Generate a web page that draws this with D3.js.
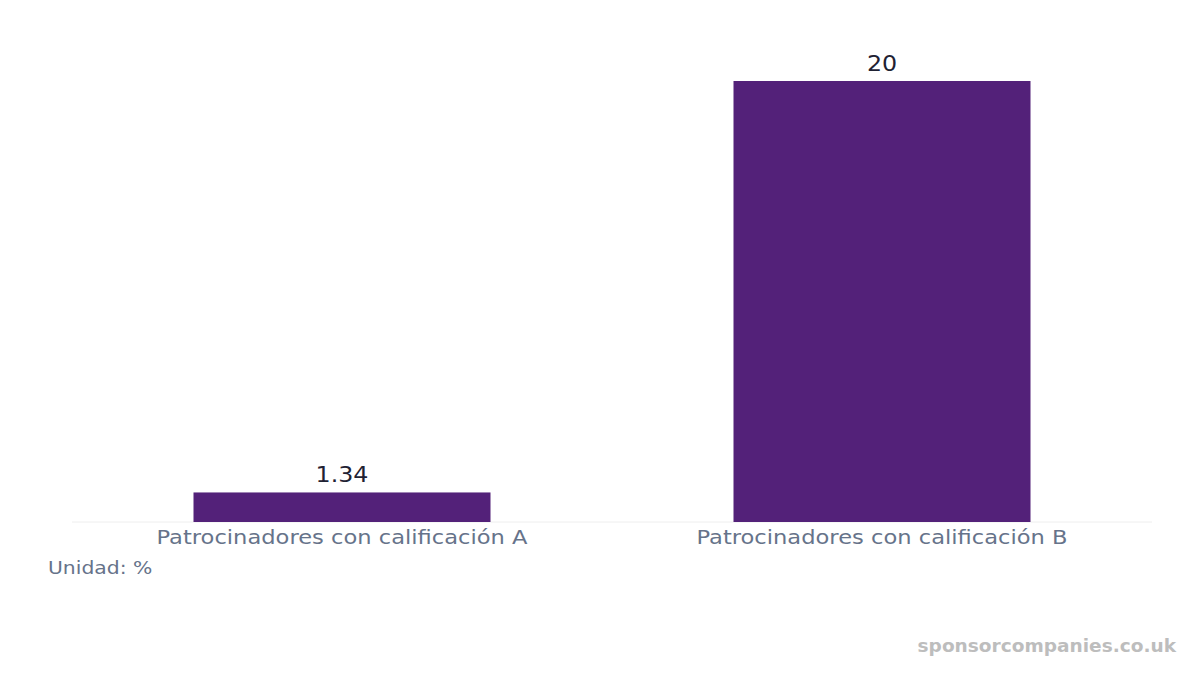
<!DOCTYPE html>
<html><head><meta charset="utf-8">
<script src="https://cdn.jsdelivr.net/npm/d3@7"></script>
<style>body{margin:0;background:#fff;font-family:"DejaVu Sans",sans-serif}</style>
</head><body>
<script>
var categories = ["Patrocinadores con calificación A", "Patrocinadores con calificación B"];
var values = [1.34, 20];
var valueLabels = ["1.34", "20"];

var width = 1200, height = 675;
var svg = d3.select("body").append("svg").attr("width", width).attr("height", height);

var x = d3.scaleBand().domain(categories).range([72, 1152]).paddingInner(0.45).paddingOuter(0.225);
var y = d3.scaleLinear().domain([0, 20]).range([522, 81]);

svg.append("line").attr("x1", 72).attr("x2", 1152).attr("y1", 522).attr("y2", 522)
   .attr("stroke", "#eeeeee");

svg.selectAll("rect").data(values).enter().append("rect")
   .attr("x", function(d, i){ return x(categories[i]); })
   .attr("width", x.bandwidth())
   .attr("y", function(d){ return y(d); })
   .attr("height", function(d){ return y(0) - y(d); })
   .attr("fill", "#532179");

// text in the reference is horizontally wider than plain DejaVu
function stretched(sel, tx, ty, sx) {
  return sel.append("text").attr("transform", "translate(" + tx + "," + ty + ") scale(" + sx + ",1)");
}

values.forEach(function(d, i) {
  stretched(svg, x(categories[i]) + x.bandwidth() / 2, y(d) - 10, 1.08)
    .attr("text-anchor", "middle").attr("font-size", 22).attr("fill", "#1f2233")
    .text(valueLabels[i]);
});

categories.forEach(function(c) {
  stretched(svg, x(c) + x.bandwidth() / 2, 544, 1.13)
    .attr("text-anchor", "middle").attr("font-size", 20).attr("fill", "#66738a")
    .text(c);
});

stretched(svg, 48, 574, 1.13).attr("font-size", 18).attr("fill", "#66738a").text("Unidad: %");

stretched(svg, 1176, 652, 1.03).attr("text-anchor", "end")
   .attr("font-size", 18).attr("font-weight", "bold").attr("fill", "#bdbdbd")
   .text("sponsorcompanies.co.uk");
</script>
</body></html>
